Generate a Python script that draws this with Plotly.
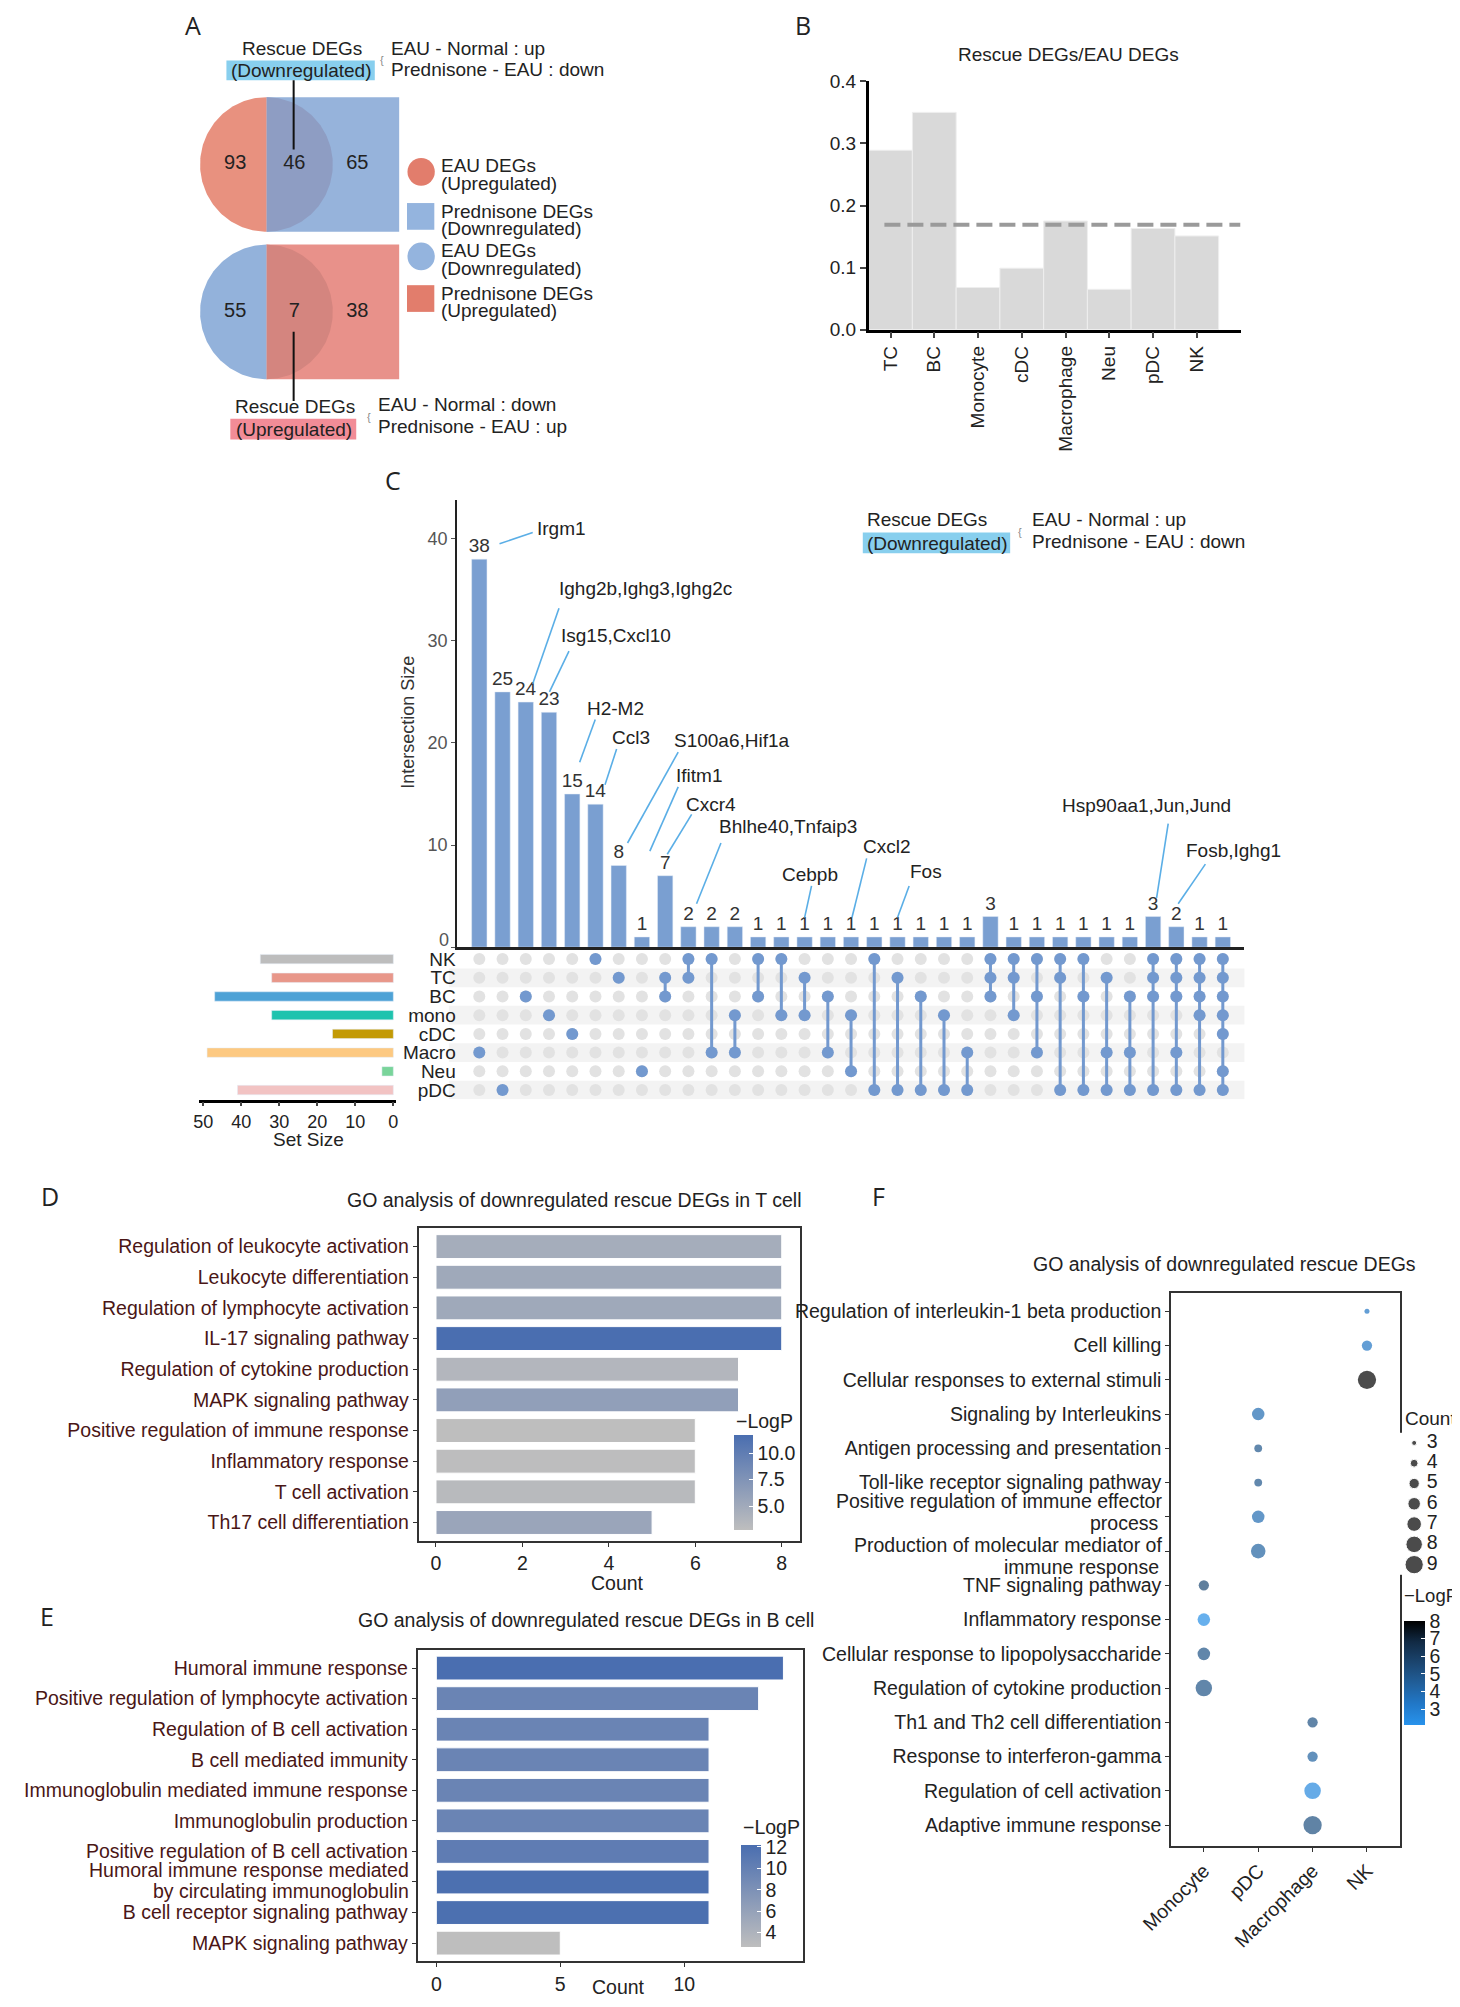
import numpy as np
import plotly.graph_objects as go

W, H = 1460, 2007
OX, OY = 8, 8          # compensates the page's default body margin
FONT = "Liberation Sans, Arial, sans-serif"
FS = 19
FL = 19.5
TXT = "#222222"
MAROON = "#4a1616"

# ---------------- DATA ----------------
# Panel A (Venn counts: EAU-only, rescue overlap, Prednisone-only)
venn_top_counts = [93, 46, 65]      # EAU up vs Prednisone down
venn_bottom_counts = [55, 7, 38]    # EAU down vs Prednisone up

# Panel B
b_cells = ["TC", "BC", "Monocyte", "cDC", "Macrophage", "Neu", "pDC", "NK"]
b_ratio = [0.289, 0.350, 0.068, 0.099, 0.175, 0.065, 0.163, 0.151]
b_mean = 0.169

# Panel C (UpSet)
sets = ["NK", "TC", "BC", "mono", "cDC", "Macro", "Neu", "pDC"]
set_sizes = [35, 32, 47, 32, 16, 49, 3, 41]
set_colors = ["#bdbdbd", "#e8978a", "#4ea2d6", "#1fc3ae", "#c39a05", "#fdc981", "#79d49a", "#f2c3c3"]
inter_sizes = [38, 25, 24, 23, 15, 14, 8, 1, 7, 2, 2, 2, 1, 1, 1, 1, 1, 1, 1, 1, 1, 1,
               3, 1, 1, 1, 1, 1, 1, 3, 2, 1, 1]
inter_members = [
    ["Macro"], ["pDC"], ["BC"], ["mono"], ["cDC"], ["NK"], ["TC"], ["Neu"],
    ["TC", "BC"], ["NK", "TC"], ["NK", "Macro"], ["mono", "Macro"], ["NK", "BC"], ["NK", "mono"],
    ["TC", "mono"], ["BC", "Macro"], ["mono", "Neu"], ["NK", "pDC"], ["TC", "pDC"], ["BC", "pDC"],
    ["mono", "pDC"], ["Macro", "pDC"],
    ["NK", "TC", "BC"], ["NK", "TC", "mono"], ["NK", "BC", "Macro"], ["NK", "TC", "pDC"],
    ["NK", "BC", "pDC"], ["TC", "Macro", "pDC"], ["BC", "Macro", "pDC"],
    ["NK", "TC", "BC", "pDC"], ["NK", "TC", "BC", "Macro", "pDC"], ["NK", "TC", "BC", "mono", "pDC"],
    ["NK", "TC", "BC", "mono", "cDC", "Neu", "pDC"]]
c_ticks = [0, 10, 20, 30, 40]
# gene label: text, text x, text y, leader x0, y0, x1, y1 (in UpSet data units)
gene_labels = [
    ("Irgm1", 2.39, 41.0, 0.87, 39.5, 2.30, 40.6),
    ("Ighg2b,Ighg3,Ighg2c", 3.35, 35.1, 2.30, 25.8, 3.43, 33.2),
    ("Isg15,Cxcl10", 3.44, 30.5, 3.02, 25.0, 3.86, 29.0),
    ("H2-M2", 4.57, 23.4, 4.32, 18.1, 4.99, 22.3),
    ("Ccl3", 5.62, 20.5, 5.41, 15.9, 5.91, 19.4),
    ("S100a6,Hif1a", 8.31, 20.2, 6.38, 10.2, 8.56, 19.1),
    ("Ifitm1", 8.39, 16.8, 7.34, 9.4, 8.56, 15.7),
    ("Cxcr4", 8.81, 14.0, 8.09, 9.1, 9.14, 13.0),
    ("Bhlhe40,Tnfaip3", 10.24, 11.8, 9.35, 4.26, 10.4, 10.2),
    ("Cebpb", 12.96, 7.07, 14.0, 2.9, 14.3, 6.0),
    ("Cxcl2", 16.42, 9.87, 16.04, 2.9, 16.67, 8.7),
    ("Fos", 18.44, 7.45, 18.0, 2.9, 18.5, 6.0),
    ("Hsp90aa1,Jun,Jund", 25.0, 13.9, 29.15, 4.84, 29.65, 12.1),
    ("Fosb,Ighg1", 30.35, 9.49, 30.08, 4.26, 31.25, 8.13),
]

# Panel D
d_terms = ["Regulation of leukocyte activation", "Leukocyte differentiation",
           "Regulation of lymphocyte activation", "IL-17 signaling pathway",
           "Regulation of cytokine production", "MAPK signaling pathway",
           "Positive regulation of immune response", "Inflammatory response",
           "T cell activation", "Th17 cell differentiation"]
d_count = [8, 8, 8, 8, 7, 7, 6, 6, 6, 5]
d_logp = [4.7, 5.1, 5.1, 11.7, 3.6, 6.2, 2.74, 2.85, 3.2, 5.5]

# Panel E
e_terms = ["Humoral immune response", "Positive regulation of lymphocyte activation",
           "Regulation of B cell activation", "B cell mediated immunity",
           "Immunoglobulin mediated immune response", "Immunoglobulin production",
           "Positive regulation of B cell activation",
           "Humoral immune response mediated\nby circulating immunoglobulin",
           "B cell receptor signaling pathway", "MAPK signaling pathway"]
e_count = [14, 13, 11, 11, 11, 11, 11, 11, 11, 5]
e_logp = [12.2, 9.6, 9.6, 9.6, 9.6, 9.6, 10.5, 12.0, 12.0, 2.7]

# Panel F
f_cells = ["Monocyte", "pDC", "Macrophage", "NK"]
f_terms = ["Regulation of interleukin-1 beta production", "Cell killing",
           "Cellular responses to external stimuli", "Signaling by Interleukins",
           "Antigen processing and presentation", "Toll-like receptor signaling pathway",
           "Positive regulation of immune effector\nprocess",
           "Production of molecular mediator of\nimmune response",
           "TNF signaling pathway", "Inflammatory response",
           "Cellular response to lipopolysaccharide", "Regulation of cytokine production",
           "Th1 and Th2 cell differentiation", "Response to interferon-gamma",
           "Regulation of cell activation", "Adaptive immune response"]
f_cell = ["NK", "NK", "NK", "pDC", "pDC", "pDC", "pDC", "pDC",
          "Monocyte", "Monocyte", "Monocyte", "Monocyte",
          "Macrophage", "Macrophage", "Macrophage", "Macrophage"]
f_count = [3, 5, 9, 6, 4, 4, 6, 7, 5, 6, 6, 8, 5, 5, 8, 9]
f_logp = [3.4, 3.4, 8.0, 3.9, 4.9, 4.9, 3.9, 4.3, 5.5, 2.3, 5.0, 5.0, 5.1, 4.3, 2.6, 5.2]
count_legend = [3, 4, 5, 6, 7, 8, 9]


# ---------------- HELPERS ----------------
def px_x(x):
    return (x - OX) / W


def px_y(y):
    return 1 - (y - OY) / H


def dx(a, b):
    return [px_x(a), px_x(b)]


def dy(top, bottom):
    return [px_y(bottom), px_y(top)]


fig = go.Figure()


def ann(text, x, y, size=FS, xanchor="center", color=TXT, family=FONT):
    fig.add_annotation(text=text, x=px_x(x), y=px_y(y), xref="paper", yref="paper",
                       showarrow=False, xanchor=xanchor, yanchor="middle",
                       font=dict(size=size, color=color, family=family))


def prect(x0, y0, x1, y1, color):
    fig.add_shape(type="rect", xref="paper", yref="paper", x0=px_x(x0), x1=px_x(x1),
                  y0=px_y(y1), y1=px_y(y0), fillcolor=color, line_width=0, layer="below")


def pcirc(cx, cy, r, color):
    fig.add_shape(type="circle", xref="paper", yref="paper", x0=px_x(cx - r), x1=px_x(cx + r),
                  y0=px_y(cy + r), y1=px_y(cy - r), fillcolor=color, line_width=0)


def dot_size(c):
    return 5 + (np.sqrt(c) - np.sqrt(3)) / (np.sqrt(9) - np.sqrt(3)) * 13.3


def split_labels(terms):
    """single-line labels go to ticks, two-line ones are returned for manual placement"""
    ticks, multi = [], []
    for i, t in enumerate(terms):
        if "\n" in t:
            ticks.append("")
            multi.append((i, t.split("\n")))
        else:
            ticks.append(t)
    return ticks, multi


# ---------------- PANEL A ----------------
U = 68.0  # px per unit radius
bottom_cy = -(305 - 156) / U
venn_groups = [
    (0.0, "#e8917f", "#8e9dc3", "#96b3db", venn_top_counts),
    (bottom_cy, "#93b2db", "#d4857f", "#e8918a", venn_bottom_counts),
]
th_l = np.linspace(np.pi / 2, 3 * np.pi / 2, 120)
th_r = np.linspace(-np.pi / 2, np.pi / 2, 120)
for cy, c_left, c_ov, c_rect, counts in venn_groups:
    fig.add_trace(go.Scatter(x=[0, 2, 2, 0, 0], y=[cy - 1, cy - 1, cy + 1, cy + 1, cy - 1],
                             fill="toself", fillcolor=c_rect, mode="lines", line=dict(width=0),
                             xaxis="x", yaxis="y", hoverinfo="skip"))
    fig.add_trace(go.Scatter(x=np.cos(th_r), y=np.sin(th_r) + cy, fill="toself", fillcolor=c_ov,
                             mode="lines", line=dict(width=0), xaxis="x", yaxis="y", hoverinfo="skip"))
    fig.add_trace(go.Scatter(x=np.cos(th_l), y=np.sin(th_l) + cy, fill="toself", fillcolor=c_left,
                             mode="lines", line=dict(width=0), xaxis="x", yaxis="y", hoverinfo="skip"))
    fig.add_trace(go.Scatter(x=[-0.47, 0.42, 1.37], y=[cy] * 3, mode="text",
                             text=[str(v) for v in counts],
                             textfont=dict(size=FS + 1, color=TXT, family=FONT),
                             xaxis="x", yaxis="y", hoverinfo="skip"))
fig.add_shape(type="line", xref="x", yref="y", x0=0.41, x1=0.41, y0=(156 - 71) / U, y1=(156 - 141) / U,
              line=dict(color="#111", width=2))
fig.add_shape(type="line", xref="x", yref="y", x0=0.41, x1=0.41, y0=(156 - 325) / U, y1=(156 - 395) / U,
              line=dict(color="#111", width=2))

prect(199, 51, 351, 71, "#88cfee")
ann("Rescue DEGs", 276, 39)
ann("(Downregulated)", 275, 61)
ann("{", 358, 50, size=11, color="#888")
ann("EAU - Normal : up", 366, 39, xanchor="left")
ann("Prednisone - EAU : down", 366, 60, xanchor="left")
prect(203, 413, 332, 434, "#f28c97")
ann("Rescue DEGs", 269, 401)
ann("(Upregulated)", 268, 424)
ann("{", 345, 411, size=11, color="#888")
ann("EAU - Normal : down", 352, 399, xanchor="left")
ann("Prednisone - EAU : up", 352, 421, xanchor="left")

pcirc(398.5, 163.5, 14, "#e27d6c")
prect(384, 195, 412, 222, "#94b4de")
pcirc(398.5, 249, 14, "#94b4de")
prect(384, 278, 412, 305, "#e27d6c")
for (t1, t2, y1, y2) in [("EAU DEGs", "(Upregulated)", 157, 175),
                         ("Prednisone DEGs", "(Downregulated)", 204, 221),
                         ("EAU DEGs", "(Downregulated)", 243, 261),
                         ("Prednisone DEGs", "(Upregulated)", 286, 304)]:
    ann(t1, 417, y1, xanchor="left")
    ann(t2, 417, y2, xanchor="left")

# ---------------- PANEL B ----------------
fig.add_trace(go.Bar(x=list(range(len(b_cells))), y=b_ratio, width=1,
                     marker=dict(color="#d9d9d9", line=dict(color="#eeeeee", width=1)),
                     xaxis="x2", yaxis="y2", hoverinfo="skip"))
fig.add_trace(go.Scatter(x=[-0.14, 8.0], y=[b_mean, b_mean], mode="lines",
                         line=dict(color="#9a9a9a", width=4, dash="16px,7px"),
                         xaxis="x2", yaxis="y2", hoverinfo="skip"))
ann("Rescue DEGs/EAU DEGs", 1062, 45)

# ---------------- PANEL C ----------------
ncol = len(inter_sizes)
cols = list(range(ncol))
fig.add_trace(go.Bar(x=cols, y=inter_sizes, width=0.66, marker=dict(color="#7a9fd1"),
                     text=[str(v) for v in inter_sizes], textposition="outside", constraintext="none",
                     textfont=dict(size=FS, color="#333", family=FONT), cliponaxis=False,
                     xaxis="x3", yaxis="y3", hoverinfo="skip"))
for i in [1, 3, 5, 7]:
    fig.add_shape(type="rect", xref="x4 domain", yref="y4", x0=-0.01, x1=1, y0=i - 0.5, y1=i + 0.5,
                  fillcolor="#f3f3f3", line_width=0, layer="below")
gx, gy = [], []
for c in cols:
    for r in range(len(sets)):
        gx.append(c)
        gy.append(r)
fig.add_trace(go.Scatter(x=gx, y=gy, mode="markers", marker=dict(color="#e2e2e2", size=12),
                         xaxis="x4", yaxis="y4", hoverinfo="skip"))
mx, my = [], []
for c, mem in zip(cols, inter_members):
    rows = sorted(sets.index(m) for m in mem)
    mx += [c] * len(rows) + [None]
    my += rows + [None]
fig.add_trace(go.Scatter(x=mx, y=my, mode="lines+markers", connectgaps=False,
                         marker=dict(color="#7399cf", size=12), line=dict(color="#7399cf", width=3),
                         xaxis="x4", yaxis="y4", hoverinfo="skip"))
fig.add_trace(go.Bar(x=set_sizes, y=list(range(len(sets))), orientation="h", width=0.5,
                     marker=dict(color=set_colors), xaxis="x5", yaxis="y5", hoverinfo="skip"))
for (txt, tx, ty, lx0, ly0, lx1, ly1) in gene_labels:
    fig.add_shape(type="line", xref="x3", yref="y3", x0=lx0, y0=ly0, x1=lx1, y1=ly1,
                  line=dict(color="#5aaee6", width=1.6))
    fig.add_annotation(text=txt, x=tx, y=ty, xref="x3", yref="y3", showarrow=False,
                       xanchor="left", yanchor="middle", font=dict(size=FS, color=TXT, family=FONT))
# the zero tick label sits slightly above the baseline, as in the original
fig.add_annotation(text=str(c_ticks[0]), x=-0.97, y=c_ticks[0], xref="x3", yref="y3", showarrow=False,
                   xanchor="right", yanchor="bottom", xshift=-6, yshift=-5,
                   font=dict(size=FS - 1, color="#555", family=FONT))
fig.add_annotation(text="Intersection Size", x=px_x(372), y=px_y(720), xref="paper", yref="paper",
                   showarrow=False, textangle=-90, font=dict(size=FS - 1, color="#333", family=FONT))
ann("Set Size", 283, 1141)
prect(851, 528, 1002, 549, "#88cfee")
ann("Rescue DEGs", 917, 515)
ann("(Downregulated)", 927, 539)
ann("{", 1012, 527, size=11, color="#888")
ann("EAU - Normal : up", 1022, 515, xanchor="left")
ann("Prednisone - EAU : down", 1022, 537, xanchor="left")

# ---------------- PANELS D / E ----------------
gray_blue = [[0, "#bebebe"], [1, "#4a6eb0"]]


def cbar(x, ybottom, bar_len, thick, vals, texts):
    return dict(x=px_x(x), xanchor="left", xpad=0, y=px_y(ybottom), yanchor="bottom", ypad=0,
                len=bar_len, lenmode="pixels", thickness=thick, outlinewidth=0,
                tickvals=vals, ticktext=texts, ticks="inside", ticklen=4, tickcolor="white",
                tickfont=dict(size=FL, color=TXT, family=FONT))


fig.add_trace(go.Bar(x=d_count, y=list(range(len(d_terms))), orientation="h", width=0.78,
                     marker=dict(color=d_logp, colorscale=gray_blue, cmin=min(d_logp), cmax=max(d_logp),
                                 line=dict(color="white", width=1), showscale=True,
                                 colorbar=cbar(719, 1536, 95, 19, [5, 7.5, 10], ["5.0", "7.5", "10.0"])),
                     xaxis="x6", yaxis="y6", hoverinfo="skip"))
ann("\u2212LogP", 719, 1426, size=FL, xanchor="left")
ann("GO analysis of downregulated rescue DEGs in T cell", 556, 1202, size=FL)
ann("Count", 600, 1590, size=FL)

e_ticks, e_multi = split_labels(e_terms)
fig.add_trace(go.Bar(x=e_count, y=list(range(len(e_terms))), orientation="h", width=0.78,
                     marker=dict(color=e_logp, colorscale=gray_blue, cmin=min(e_logp), cmax=max(e_logp),
                                 line=dict(color="white", width=1), showscale=True,
                                 colorbar=cbar(726, 1957, 102, 20, [4, 6, 8, 10, 12],
                                               ["4", "6", "8", "10", "12"])),
                     xaxis="x7", yaxis="y7", hoverinfo="skip"))
ann("\u2212LogP", 726, 1836, size=FL, xanchor="left")
for i, lines in e_multi:
    ann(lines[0], 388, 1880, size=FL, xanchor="right", color=MAROON)
    ann(lines[1], 388, 1901, size=FL, xanchor="right", color=MAROON)
ann("GO analysis of downregulated rescue DEGs in B cell", 567, 1627, size=FL)
ann("Count", 601, 1998, size=FL)

# ---------------- PANEL F ----------------
f_ticks, f_multi = split_labels(f_terms)
blue_black = [[0, "#2893ec"], [0.2, "#2178c8"], [0.4, "#215f9a"], [0.6, "#1b456f"],
              [0.8, "#112a44"], [1, "#000000"]]
fig.add_trace(go.Scatter(x=[f_cells.index(c) for c in f_cell], y=list(range(len(f_terms))),
                         mode="markers",
                         marker=dict(size=[dot_size(c) for c in f_count], color=f_logp,
                                     colorscale=blue_black, cmin=2.1, cmax=8.0, showscale=True,
                                     line=dict(width=0),
                                     colorbar=cbar(1406, 1733, 104, 21, [3, 4, 5, 6, 7, 8],
                                                   ["3", "4", "5", "6", "7", "8"])),
                         xaxis="x8", yaxis="y8", hoverinfo="skip"))
ann("\u2212LogP", 1403, 1602, size=18.5, xanchor="left")
f_multi_y = [(1507, 1529), (1551, 1573)]
for (i, lines), (ya, yb) in zip(f_multi, f_multi_y):
    ann(lines[0], 1160, ya, size=FL, xanchor="right")
    ann(lines[1], 1157, yb, size=FL, xanchor="right")
fig.add_trace(go.Scatter(x=[0.43] * len(count_legend), y=count_legend, mode="markers", cliponaxis=False,
                         marker=dict(size=[dot_size(c) for c in count_legend], color="black"),
                         xaxis="x9", yaxis="y9", hoverinfo="skip"))
fig.add_trace(go.Scatter(x=[0.78] * len(count_legend), y=count_legend, mode="text", cliponaxis=False,
                         text=[str(c) for c in count_legend], textposition="middle right",
                         textfont=dict(size=FL, color=TXT, family=FONT),
                         xaxis="x9", yaxis="y9", hoverinfo="skip"))
ann("Count", 1404, 1423, xanchor="left", size=19)
ann("GO analysis of downregulated rescue DEGs", 1222, 1267, size=FL)

# panel letters
for L, x, y in [("A", 165, 15), ("B", 790, 15), ("C", 370, 475), ("D", 18, 1198),
                ("E", 15, 1623), ("F", 867, 1198)]:
    ann(L, x, y, size=25, family="Open Sans, DejaVu Sans, sans-serif")

# ---------------- LAYOUT ----------------
axline = dict(showgrid=False, zeroline=False)
tf = dict(size=FS, color=TXT, family=FONT)
tfl = dict(size=FL, color=TXT, family=FONT)
box = dict(showline=True, mirror=True, linewidth=2, linecolor="#333", ticks="outside", ticklen=4,
           tickcolor="#333", showgrid=False, zeroline=False)

fig.update_layout(
    width=W, height=H, margin=dict(l=0, r=0, t=0, b=0), showlegend=False,
    paper_bgcolor="white", plot_bgcolor="white",
    font=dict(family=FONT, size=FS, color=TXT),
    xaxis=dict(domain=dx(140, 480), range=[(140 - 240) / U, (480 - 240) / U], visible=False, anchor="y"),
    yaxis=dict(domain=dy(60, 440), range=[(156 - 440) / U, (156 - 60) / U], visible=False, anchor="x"),
    xaxis2=dict(domain=dx(857, 1238), range=[-0.5, 8.0], anchor="y2", tickvals=list(range(len(b_cells))),
                ticktext=b_cells, tickangle=-90, ticks="outside", ticklen=6, tickwidth=2,
                showline=True, linewidth=2.5, linecolor="black", tickfont=tf, **axline),
    yaxis2=dict(domain=dy(72, 323), range=[0, 0.4], anchor="x2", tickvals=[0, 0.1, 0.2, 0.3, 0.4],
                tickformat=".1f", ticks="outside", ticklen=6, tickwidth=2, showline=True, linewidth=2.5,
                linecolor="black", tickfont=tf, **axline),
    xaxis3=dict(domain=dx(435, 1242), range=[-0.97, 32.93], anchor="y3", showticklabels=False, ticks="",
                showline=True, linewidth=3, linecolor="#222", **axline),
    yaxis3=dict(domain=dy(495, 947), range=[0, 43.8], anchor="x3", tickvals=c_ticks,
                ticktext=[""] + [str(v) for v in c_ticks[1:]],
                ticks="outside", ticklen=4, tickcolor="#555", showline=True, linewidth=1.5,
                linecolor="#222", tickfont=dict(size=FS - 1, color="#555", family=FONT), **axline),
    xaxis4=dict(domain=dx(435, 1242), range=[-0.97, 32.93], anchor="y4", visible=False),
    yaxis4=dict(domain=dy(949, 1101), range=[7.51, -0.53], anchor="x4", tickvals=list(range(len(sets))),
                ticktext=sets, ticks="", showline=False, tickfont=tf, **axline),
    xaxis5=dict(domain=dx(171, 372.5), range=[51.1, -0.64], anchor="y5", showline=True, linewidth=2.5,
                linecolor="black", ticks="outside", ticklen=4, tickwidth=1.5,
                tickvals=[0, 10, 20, 30, 40, 50], tickfont=dict(size=FS - 1, color=TXT, family=FONT),
                **axline),
    yaxis5=dict(domain=dy(949, 1101), range=[7.51, -0.53], anchor="x5", visible=False),
    xaxis6=dict(domain=dx(396, 787), range=[-0.4, 8.43], anchor="y6", tickvals=[0, 2, 4, 6, 8],
                tickfont=tfl, **box),
    yaxis6=dict(domain=dy(1231, 1547), range=[9.6, -0.6], anchor="x6", tickvals=list(range(len(d_terms))),
                ticktext=d_terms, tickfont=dict(size=FL, color=MAROON, family=FONT), **box),
    xaxis7=dict(domain=dx(395, 790), range=[-0.75, 14.8], anchor="y7", tickvals=[0, 5, 10],
                tickfont=tfl, **box),
    yaxis7=dict(domain=dy(1657, 1972), range=[9.6, -0.6], anchor="x7", tickvals=list(range(len(e_terms))),
                ticktext=e_ticks, tickfont=dict(size=FL, color=MAROON, family=FONT), **box),
    xaxis8=dict(domain=dx(1167, 1401), range=[-0.6, 3.6], anchor="y8", tickvals=list(range(len(f_cells))),
                ticktext=f_cells, tickangle=-45, tickfont=tfl, **box),
    yaxis8=dict(domain=dy(1296, 1855), range=[15.6, -0.55], anchor="x8",
                tickvals=list(range(len(f_terms))), ticktext=f_ticks, tickfont=tfl, **box),
    xaxis9=dict(domain=dx(1400, 1437), range=[0, 1], anchor="y9", visible=False),
    yaxis9=dict(domain=dy(1437.75, 1581.25), range=[9.5, 2.5], anchor="x9", visible=False),
)

fig.write_html("out.html")
